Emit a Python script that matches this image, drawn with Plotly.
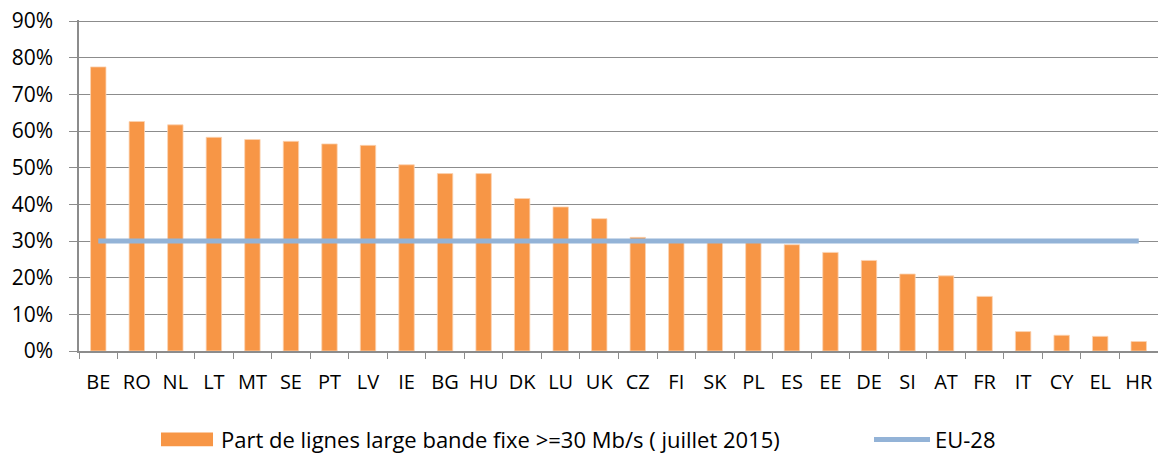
import plotly.graph_objects as go

# Part de lignes large bande fixe >=30 Mb/s (juillet 2015), en %
pays = ["BE", "RO", "NL", "LT", "MT", "SE", "PT", "LV", "IE", "BG", "HU", "DK", "LU", "UK",
        "CZ", "FI", "SK", "PL", "ES", "EE", "DE", "SI", "AT", "FR", "IT", "CY", "EL", "HR"]
part_30mbps = [77.5, 62.6, 61.7, 58.3, 57.7, 57.2, 56.5, 56.1, 50.8, 48.4, 48.4, 41.6, 39.3, 36.1,
               31.0, 30.3, 30.0, 29.8, 29.0, 26.9, 24.7, 21.0, 20.5, 14.9, 5.3, 4.3, 4.0, 2.6]
eu28 = [30.0] * len(pays)

y_ticks = [0, 10, 20, 30, 40, 50, 60, 70, 80, 90]

ORANGE = "#F79646"
BLEU = "#93B3D7"
GRILLE = "#8C8C8C"
FONT = "'Open Sans', Lato, sans-serif"

fig = go.Figure()
fig.add_trace(go.Bar(
    x=pays, y=part_30mbps,
    name="Part de lignes large bande fixe >=30 Mb/s ( juillet 2015)",
    marker=dict(color=ORANGE, line=dict(color="#FBD3B2", width=0.8)),
    showlegend=False,
))
fig.add_trace(go.Scatter(
    x=pays, y=eu28, name="EU-28", mode="lines",
    line=dict(color=BLEU, width=5),
    showlegend=False,
))

# légende dessinée à la main (rectangle large comme dans Excel)
LEG_Y = -0.267
fig.add_shape(type="rect", xref="paper", yref="paper",
              x0=0.076, x1=0.1242, y0=LEG_Y + 0.021, y1=LEG_Y - 0.021,
              fillcolor=ORANGE, line=dict(width=0))
fig.add_annotation(text="Part de lignes large bande fixe >=30 Mb/s ( juillet 2015)",
                   xref="paper", yref="paper", x=0.1297, y=LEG_Y,
                   xanchor="left", yanchor="middle", showarrow=False,
                   font=dict(size=22, color="#000000", family=FONT))
fig.add_shape(type="line", xref="paper", yref="paper",
              x0=0.7368, x1=0.7887, y0=LEG_Y, y1=LEG_Y,
              line=dict(color=BLEU, width=5))
fig.add_annotation(text="EU-28", xref="paper", yref="paper", x=0.7915, y=LEG_Y,
                   xanchor="left", yanchor="middle", showarrow=False,
                   font=dict(size=22, color="#000000", family=FONT))

fig.update_layout(
    width=1158, height=456,
    margin=dict(l=79, r=0, t=20, b=105),
    paper_bgcolor="white", plot_bgcolor="white",
    font=dict(family=FONT, color="#000000", size=21),
    bargap=0.6,
    xaxis=dict(
        showgrid=False, showline=True, linecolor=GRILLE, linewidth=1.5,
        ticks="outside", tickson="boundaries", ticklen=6, tickcolor=GRILLE,
        tickfont=dict(size=20), ticklabelstandoff=12, tickangle=0,
    ),
    yaxis=dict(
        # un peu de marge au-dessus de 90 % pour que la grille du haut soit tracée
        range=[0, 90.3], tickvals=y_ticks, ticktext=[f"{v}%" for v in y_ticks],
        showgrid=True, gridcolor=GRILLE, gridwidth=1.2,
        showline=True, linecolor=GRILLE, linewidth=1.5,
        ticks="outside", ticklen=8, tickcolor=GRILLE,
        tickfont=dict(size=21), zeroline=False, ticklabelstandoff=12,
    ),
)

# pas de marge autour du graphique dans la page
fig.write_html("out.html", config={"displayModeBar": False},
               post_script="document.body.style.margin='0';")
